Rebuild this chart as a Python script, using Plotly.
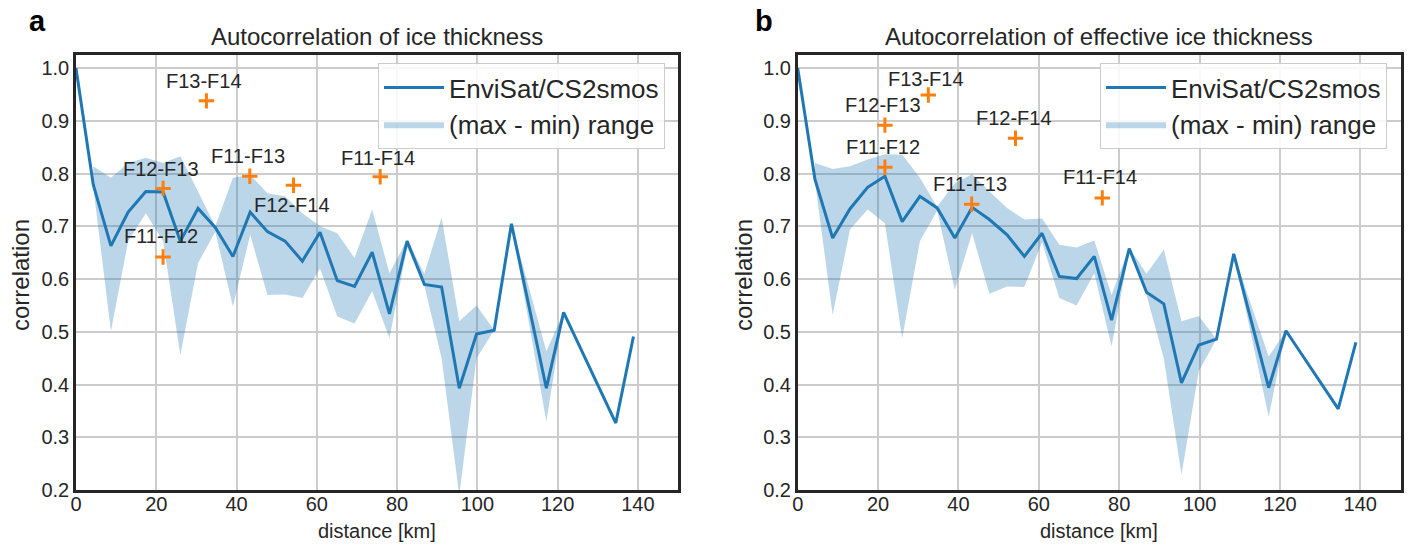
import plotly.graph_objects as go

# ---------------- data ----------------
distance = [0.0, 4.3, 8.7, 13.0, 17.4, 21.7, 26.0, 30.4, 34.7, 39.1, 43.4, 47.7, 52.1,
            56.4, 60.8, 65.1, 69.4, 73.8, 78.1, 82.5, 86.8, 91.1, 95.5, 99.8, 104.2,
            108.5, 117.2, 121.5, 134.5, 138.9]

corr_a = [1.0, 0.779, 0.663, 0.727, 0.766, 0.765, 0.672, 0.734, 0.698, 0.643, 0.727, 0.690,
          0.672, 0.634, 0.689, 0.597, 0.586, 0.651, 0.534, 0.672, 0.590, 0.585, 0.393, 0.496,
          0.503, 0.705, 0.393, 0.537, 0.327, 0.491]
corr_b = [1.0, 0.789, 0.678, 0.733, 0.774, 0.795, 0.709, 0.757, 0.735, 0.678, 0.736, 0.713,
          0.684, 0.643, 0.687, 0.605, 0.601, 0.643, 0.522, 0.658, 0.575, 0.553, 0.403, 0.475,
          0.486, 0.648, 0.394, 0.502, 0.354, 0.480]

# band defined on distance[1:28]
band_distance = [4.3, 8.7, 13.0, 17.4, 21.7, 26.0, 30.4, 34.7, 39.1, 43.4, 47.7, 52.1,
                 56.4, 60.8, 65.1, 69.4, 73.8, 78.1, 82.5, 86.8, 91.1, 95.5, 99.8, 104.2,
                 108.5, 117.2, 121.5]
max_a = [0.814, 0.792, 0.820, 0.830, 0.820, 0.833, 0.766, 0.700, 0.792, 0.798, 0.763, 0.757,
         0.725, 0.700, 0.687, 0.640, 0.732, 0.611, 0.675, 0.610, 0.717, 0.520, 0.550, 0.503,
         0.705, 0.463, 0.537]
min_a = [0.775, 0.501, 0.672, 0.725, 0.672, 0.456, 0.630, 0.690, 0.548, 0.684, 0.570, 0.571,
         0.564, 0.620, 0.529, 0.516, 0.577, 0.488, 0.660, 0.588, 0.450, 0.190, 0.450, 0.503,
         0.705, 0.330, 0.537]
max_b = [0.820, 0.809, 0.814, 0.827, 0.837, 0.836, 0.792, 0.737, 0.782, 0.799, 0.766, 0.735,
         0.713, 0.715, 0.665, 0.660, 0.673, 0.570, 0.660, 0.610, 0.656, 0.520, 0.530, 0.486,
         0.648, 0.453, 0.502]
min_b = [0.785, 0.532, 0.694, 0.732, 0.706, 0.488, 0.672, 0.730, 0.580, 0.687, 0.572, 0.586,
         0.585, 0.670, 0.564, 0.550, 0.611, 0.472, 0.655, 0.570, 0.450, 0.229, 0.425, 0.486,
         0.648, 0.339, 0.502]

pair_names = ["F11-F12", "F12-F13", "F13-F14", "F11-F13", "F12-F14", "F11-F14"]
pair_dist = [21.7, 21.7, 32.5, 43.3, 54.2, 75.8]
pair_a = [0.642, 0.772, 0.938, 0.795, 0.778, 0.794]
pair_b = [0.812, 0.892, 0.949, 0.742, 0.867, 0.754]
# label offsets (y, correlation units) relative to markers
label_dy_a = [0.040, 0.036, 0.038, 0.038, -0.038, 0.036]
label_dy_b = [0.039, 0.039, 0.031, 0.038, 0.038, 0.039]

titles = ["Autocorrelation of ice thickness", "Autocorrelation of effective ice thickness"]
panel_tags = ["a", "b"]

# ---------------- style ----------------
BLUE = "#1f77b4"
ORANGE = "#ff7f0e"
TXT = "#262626"
FONT = "Liberation Sans, Arial, sans-serif"

W, H = 1410, 548
dom_x = [[76 / W, 678 / W], [797.7 / W, 1400.5 / W]]
dom_y = [(H - 490) / H, (H - 55) / H]

fig = go.Figure()

datasets = [(corr_a, max_a, min_a, pair_a, label_dy_a), (corr_b, max_b, min_b, pair_b, label_dy_b)]
annotations = []
for k, (corr, mx, mn, pairs, dys) in enumerate(datasets):
    xa = "x" if k == 0 else "x2"
    ya = "y" if k == 0 else "y2"
    leg = "legend" if k == 0 else "legend2"
    fig.add_trace(go.Scatter(
        x=band_distance + band_distance[::-1], y=mx + mn[::-1],
        fill="toself", fillcolor="rgba(31,119,180,0.3)", line=dict(width=0),
        mode="lines", name="(max - min) range", xaxis=xa, yaxis=ya, legend=leg,
        hoverinfo="skip", legendrank=2))
    fig.add_trace(go.Scatter(
        x=distance, y=corr, mode="lines", line=dict(color=BLUE, width=3),
        name="EnviSat/CS2smos", xaxis=xa, yaxis=ya, legend=leg, legendrank=1))
    fig.add_trace(go.Scatter(
        x=pair_dist, y=pairs, mode="markers",
        marker=dict(symbol="cross-thin", size=11, line=dict(color=ORANGE, width=3)),
        showlegend=False, xaxis=xa, yaxis=ya))
    for name, d, v, dy in zip(pair_names, pair_dist, pairs, dys):
        annotations.append(dict(x=d - 0.5, y=v + dy, xref=xa, yref=ya, text=name,
                                showarrow=False, font=dict(size=20, color=TXT, family=FONT),
                                xanchor="center", yanchor="middle"))
    cx = (dom_x[k][0] + dom_x[k][1]) / 2
    annotations.append(dict(x=cx, y=(H - 36) / H, xref="paper", yref="paper", text=titles[k],
                            showarrow=False, font=dict(size=24, color=TXT, family=FONT),
                            xanchor="center", yanchor="middle"))
    annotations.append(dict(x=cx, y=(H - 531) / H, xref="paper", yref="paper",
                            text="distance [km]", showarrow=False,
                            font=dict(size=20, color=TXT, family=FONT),
                            xanchor="center", yanchor="middle"))
    annotations.append(dict(x=(20 if k == 0 else 743) / W, y=(H - 275) / H, xref="paper",
                            yref="paper", text="correlation", textangle=-90, showarrow=False,
                            font=dict(size=24, color=TXT, family=FONT),
                            xanchor="center", yanchor="middle"))
    annotations.append(dict(x=(37 if k == 0 else 764) / W, y=(H - 21) / H, xref="paper",
                            yref="paper", text="<b>%s</b>" % panel_tags[k], showarrow=False,
                            font=dict(size=29, color="black", family=FONT),
                            xanchor="center", yanchor="middle"))

axis_common = dict(showgrid=True, gridcolor="#cccccc", gridwidth=1.5, zeroline=False,
                   showline=True, linecolor=TXT, linewidth=2.5, mirror=True, ticks="",
                   automargin=False, tickfont=dict(size=20, color=TXT, family=FONT))

legend_common = dict(bgcolor="rgba(255,255,255,0.85)", bordercolor="#cccccc", borderwidth=1,
                     font=dict(size=26, color=TXT, family=FONT), xanchor="right",
                     yanchor="top", tracegroupgap=0, itemwidth=60)

fig.update_layout(
    width=W, height=H, margin=dict(l=0, r=0, t=0, b=0, autoexpand=False),
    paper_bgcolor="white", plot_bgcolor="white",
    font=dict(family=FONT, color=TXT),
    xaxis=dict(domain=dom_x[0], range=[0, 150], dtick=20, tick0=0, anchor="y",
               ticklabelstandoff=-6, **axis_common),
    yaxis=dict(domain=dom_y, range=[0.2, 1.025], dtick=0.1, tick0=0.2, tickformat=".1f",
               anchor="x", **axis_common),
    xaxis2=dict(domain=dom_x[1], range=[0, 150], dtick=20, tick0=0, anchor="y2",
                ticklabelstandoff=-6, **axis_common),
    yaxis2=dict(domain=dom_y, range=[0.2, 1.025], dtick=0.1, tick0=0.2, tickformat=".1f",
                anchor="x2", **axis_common),
    legend=dict(x=665 / W, y=(H - 63) / H, **legend_common),
    legend2=dict(x=1387 / W, y=(H - 63) / H, **legend_common),
    annotations=annotations,
    showlegend=True,
)

fig.write_html("out.html")
